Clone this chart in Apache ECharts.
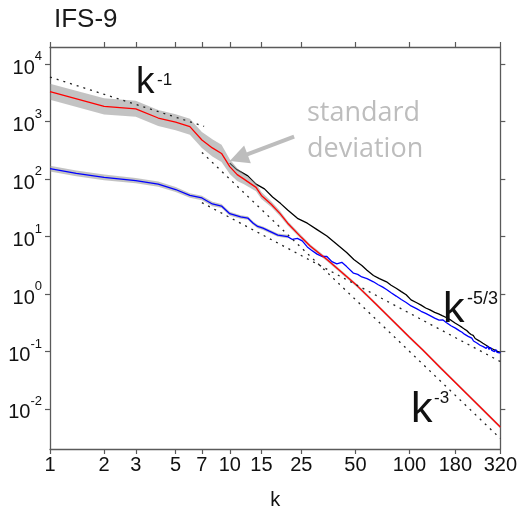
<!DOCTYPE html>
<html>
<head>
<meta charset="utf-8">
<script src="https://cdn.jsdelivr.net/npm/echarts@6/dist/echarts.min.js"></script>
<style>
html,body{margin:0;padding:0;background:#fff}
#chart{width:520px;height:515px}
</style>
</head>
<body>
<div id="chart"></div>
<script>
// Tick positions on the wavenumber and energy axes
const kTicks = [1, 2, 3, 5, 7, 10, 15, 25, 50, 100, 180, 320];
const eTicks = [0.01, 0.1, 1, 10, 100, 1000, 10000];

// Rotational spectrum [k, E] and its standard deviation (dex)
const redSpectrum = [[1,3330],[2,1850],[3,1680],[4,1160],[5,980],[6,820],[7,480],[8,350],[9,280],[10,165],[11,120],[12,100],[14,72],[15,52],[17,36.6],[19,25.3],[21,17.1],[25,9.7],[28,6.86],[35,3.9],[51,1.40],[65,0.668],[81,0.339],[100,0.177],[119,0.1045],[150,0.0505],[181,0.0283],[240,0.0118],[320,0.00484]];
const redStd = [0.14,0.14,0.14,0.14,0.14,0.14,0.14,0.15,0.15,0.13,0.11,0.09,0.07,0.06,0.05,0.045,0.04,0.035,0.03,0.03,0.028,0.027,0.026,0.025,0.025,0.025,0.025,0.025,0.025];

// Divergent spectrum [k, E] and standard deviation (dex) at low k
const blueSpectrum = [[1,152],[1.4,126],[2,107],[3,94],[4,82],[5,66],[6,52],[7,47],[8,37],[9,34],[10,25],[11.5,22],[12.6,21],[13.5,17],[14.3,15],[15.3,14],[16.6,12.4],[18.5,10.6],[21,10],[22.3,8.9],[23.8,9.3],[25.3,8.4],[27,6.6],[28.5,5.8],[30.6,4.95],[32.6,4.5],[34.7,4.5],[37,3.66],[39.4,3.35],[42,3.57],[44.7,3.0],[48.8,2.3],[51.5,2.2],[54.3,1.98],[58,1.85],[63,1.63],[67,1.45],[71,1.32],[74.5,1.2],[79,1.05],[84.3,0.92],[90,0.8],[95.8,0.71],[102,0.62],[110,0.55],[116,0.5],[123,0.46],[130,0.42],[138,0.38],[146,0.35],[153,0.355],[160,0.32],[170,0.28],[180,0.255],[190,0.228],[196,0.216],[202,0.2],[207,0.21],[212,0.183],[217,0.176],[222,0.17],[227,0.152],[232,0.16],[237,0.14],[242,0.147],[247,0.128],[252,0.136],[257,0.121],[262,0.129],[267,0.113],[272,0.124],[277,0.108],[282,0.118],[287,0.104],[292,0.112],[297,0.099],[302,0.108],[307,0.096],[312,0.104],[316,0.094],[320,0.097]];
const blueStd = [0.05,0.05,0.05,0.045,0.045,0.045,0.04,0.04,0.04,0.035,0.035,0.03,0.03,0.03,0.03,0.03,0.03,0.03,0.03];

// Total spectrum [k, E]
const blackSpectrum = [[10,190],[10.9,148],[12.6,114],[14,82],[15.6,67.6],[17.3,48.9],[19.2,37.5],[21,29],[23.8,20.8],[27,17.1],[30.6,13.2],[34.7,10.2],[39.4,7.33],[44.7,5.27],[49,4.0],[54.3,3.13],[58,2.6],[63,2.1],[68,1.85],[74.5,1.63],[79,1.42],[84.3,1.26],[90,1.1],[95.8,0.97],[102,0.79],[109,0.71],[116,0.64],[123,0.57],[130,0.53],[138,0.48],[145,0.45],[152,0.42],[160,0.39],[170,0.35],[180,0.31],[190,0.28],[196,0.262],[202,0.245],[208,0.232],[214,0.212],[220,0.197],[226,0.19],[232,0.168],[238,0.162],[244,0.153],[250,0.148],[256,0.139],[262,0.134],[268,0.127],[274,0.125],[280,0.116],[286,0.113],[292,0.109],[298,0.106],[304,0.102],[310,0.101],[316,0.097],[320,0.098]];

// Reference power laws
const slopeMinus1 = [[1,6000],[7.2,833]];
const slopeMinus3 = [[7,292],[320,0.00305]];
const slopeMinus53 = [[7,39],[320,0.0667]];

// Arrow pointing at the shaded band
const arrowFrom = [22.8, 548];
const arrowTo = [11.2, 236];

// Band rows [k, lower, upper] from a spectrum and its spread in dex
function bandRows(spec, std) {
  return std.map((s, i) => [spec[i][0], spec[i][1] / Math.pow(10, s), spec[i][1] * Math.pow(10, s)]);
}

const axisColor = '#5a5a5a';
const bandColor = 'rgba(140,140,140,0.52)';

function powLabel(v) {
  const e = Math.round(Math.log10(v));
  return '{b|10}{e|' + e + '}';
}

// One closed polygon through the upper edge and back along the lower edge
function bandSeries(rows) {
  return {
    type: 'custom', data: rows, z: 3, silent: true,
    encode: { x: 0, y: [1, 2] },
    renderItem: function (params, api) {
      if (params.dataIndex !== 0) return null;
      const upper = rows.map(r => api.coord([r[0], r[2]]));
      const lower = rows.slice().reverse().map(r => api.coord([r[0], r[1]]));
      return {
        type: 'polygon',
        shape: { points: upper.concat(lower) },
        style: { fill: bandColor, stroke: null }
      };
    }
  };
}

const baseX = {
  type: 'log', logBase: 10, min: 1, max: 320,
  axisLine: { show: true, lineStyle: { color: axisColor, width: 1.3 } },
  axisTick: { show: true, length: 5, customValues: kTicks, lineStyle: { color: axisColor, width: 1.2 } },
  minorTick: { show: false },
  splitLine: { show: false }
};
const baseY = {
  type: 'log', logBase: 10, min: 0.002, max: 20000,
  axisLine: { show: true, lineStyle: { color: axisColor, width: 1.3 } },
  axisTick: { show: true, length: 5, customValues: eTicks, lineStyle: { color: axisColor, width: 1.2 } },
  minorTick: { show: false },
  splitLine: { show: false }
};

const chart = echarts.init(document.getElementById('chart'), null, { renderer: 'canvas' });

const font = 'Liberation Sans, Arial, sans-serif';

chart.setOption({
  animation: false,
  backgroundColor: '#fff',
  title: {
    text: 'IFS-9', left: 49, top: 2,
    textStyle: { fontFamily: font, fontSize: 26, fontWeight: 'normal', color: '#1a1a1a' }
  },
  grid: { left: 50, right: 15, top: 47, bottom: 58, containLabel: false },
  xAxis: [
    Object.assign({}, baseX, {
      position: 'bottom',
      name: 'k', nameLocation: 'middle', nameGap: 41,
      nameTextStyle: { fontFamily: font, fontSize: 20, color: '#111' },
      axisLabel: { show: true, customValues: kTicks, margin: 6, fontFamily: font, fontSize: 20, color: '#111' }
    }),
    Object.assign({}, baseX, { position: 'top', axisLabel: { show: false } })
  ],
  yAxis: [
    Object.assign({}, baseY, {
      position: 'left',
      axisLabel: {
        show: true, customValues: eTicks, margin: 8, formatter: powLabel,
        rich: {
          b: { fontFamily: font, fontSize: 20, lineHeight: 28, color: '#111', verticalAlign: 'bottom' },
          e: { fontFamily: font, fontSize: 13, lineHeight: 14, color: '#111', verticalAlign: 'top' }
        }
      }
    }),
    Object.assign({}, baseY, { position: 'right', axisLabel: { show: false } })
  ],
  series: [
    {
      name: 'total', type: 'line', data: blackSpectrum, symbol: 'none', z: 2,
      lineStyle: { color: '#000', width: 1.3 }, silent: true
    },
    bandSeries(bandRows(redSpectrum, redStd)),
    bandSeries(bandRows(blueSpectrum, blueStd)),
    {
      name: 'divergent', type: 'line', data: blueSpectrum, symbol: 'none', z: 4,
      lineStyle: { color: '#0000ff', width: 1.3 }, silent: true
    },
    {
      name: 'rotational', type: 'line', data: redSpectrum, symbol: 'none', z: 5,
      lineStyle: { color: '#ff0000', width: 1.3 }, silent: true,
      markLine: {
        silent: true, symbol: ['none', 'triangle'], symbolSize: 19,
        label: { show: false },
        lineStyle: { color: '#bdbdbd', width: 4, type: 'solid' },
        data: [[{ coord: arrowFrom }, { coord: arrowTo }]]
      }
    },
    {
      type: 'line', data: slopeMinus1, symbol: 'none', z: 6,
      lineStyle: { color: '#222', width: 1.3, type: [2, 5] }, silent: true
    },
    {
      type: 'line', data: slopeMinus3, symbol: 'none', z: 6,
      lineStyle: { color: '#222', width: 1.3, type: [2, 5] }, silent: true
    },
    {
      type: 'line', data: slopeMinus53, symbol: 'none', z: 6,
      lineStyle: { color: '#222', width: 1.3, type: [2, 5] }, silent: true
    }
  ],
  graphic: [
    { type: 'text', x: 136, y: 83, z: 10, style: { text: 'k', fontFamily: font, fontSize: 37, fill: '#111', align: 'left', verticalAlign: 'middle' } },
    { type: 'text', x: 157, y: 80, z: 10, style: { text: '-1', fontFamily: font, fontSize: 17, fill: '#111', align: 'left', verticalAlign: 'middle' } },
    { type: 'text', x: 443, y: 310, z: 10, style: { text: 'k', fontFamily: font, fontSize: 43, fill: '#111', align: 'left', verticalAlign: 'middle' } },
    { type: 'text', x: 467, y: 299, z: 10, style: { text: '-5/3', fontFamily: font, fontSize: 18, fill: '#111', align: 'left', verticalAlign: 'middle' } },
    { type: 'text', x: 411, y: 410, z: 10, style: { text: 'k', fontFamily: font, fontSize: 43, fill: '#111', align: 'left', verticalAlign: 'middle' } },
    { type: 'text', x: 434, y: 398, z: 10, style: { text: '-3', fontFamily: font, fontSize: 17, fill: '#111', align: 'left', verticalAlign: 'middle' } },
    { type: 'text', x: 307, y: 113, z: 10, style: { text: 'standard', fontFamily: 'Open Sans, sans-serif', fontSize: 27, fill: '#bdbdbd', align: 'left', verticalAlign: 'middle' } },
    { type: 'text', x: 307, y: 149, z: 10, style: { text: 'deviation', fontFamily: 'Open Sans, sans-serif', fontSize: 27, fill: '#bdbdbd', align: 'left', verticalAlign: 'middle' } }
  ]
});
</script>
</body>
</html>
